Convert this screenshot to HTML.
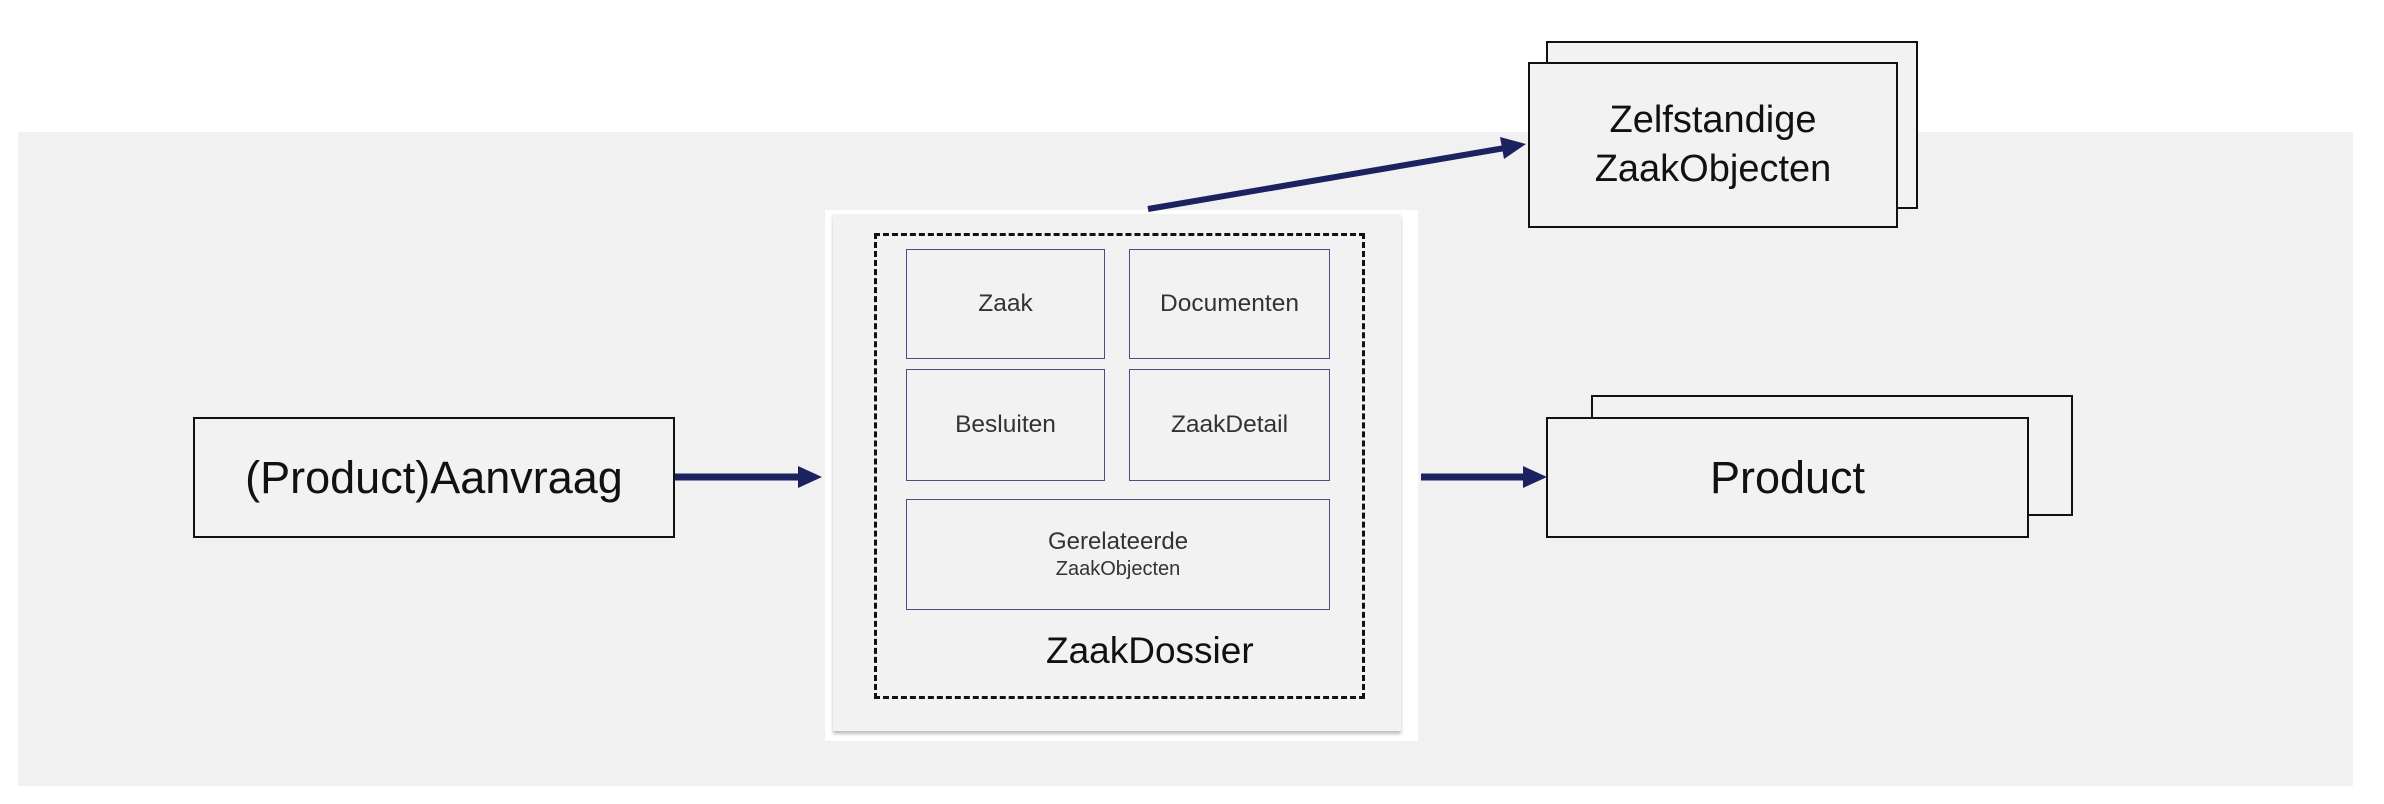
<!DOCTYPE html>
<html><head><meta charset="utf-8"><style>
html,body{margin:0;padding:0;background:#fff;}
body{width:2384px;height:804px;position:relative;overflow:hidden;font-family:"Liberation Sans",Arial,sans-serif;color:#111;}
.a{position:absolute;box-sizing:border-box;}
.c{display:flex;align-items:center;justify-content:center;text-align:center;}
.blk{border:2px solid #111;background:#f2f2f2;}
.in{border:1.5px solid #4a4f8a;background:#f2f2f2;font-size:24.5px;color:#333;}
</style></head><body>
<div class="a" style="left:18px;top:132px;width:2335px;height:654px;background:#f1f1f1;"></div>
<div class="a" style="left:825px;top:210px;width:593px;height:531px;background:#fff;"></div>
<div class="a" style="left:833px;top:214px;width:568px;height:517px;background:#f2f2f2;box-shadow:0 3px 3px rgba(0,0,0,0.25);"></div>
<div class="a" style="left:874px;top:233px;width:491px;height:466px;border:3px dashed #111;"></div>
<div class="a c in" style="left:906px;top:249px;width:199px;height:110px;">Zaak</div>
<div class="a c in" style="left:1129px;top:249px;width:201px;height:110px;">Documenten</div>
<div class="a c in" style="left:906px;top:369px;width:199px;height:112px;">Besluiten</div>
<div class="a c in" style="left:1129px;top:369px;width:201px;height:112px;">ZaakDetail</div>
<div class="a c in" style="left:906px;top:499px;width:424px;height:111px;flex-direction:column;line-height:1.2;font-size:24px;">Gerelateerde<span style="font-size:20px;">ZaakObjecten</span></div>
<div class="a" style="left:1046px;top:630px;font-size:37px;">ZaakDossier</div>

<div class="a c blk" style="left:193px;top:417px;width:482px;height:121px;font-size:45px;">(Product)Aanvraag</div>

<div class="a blk" style="left:1591px;top:395px;width:482px;height:121px;"></div>
<div class="a c blk" style="left:1546px;top:417px;width:483px;height:121px;font-size:45px;">Product</div>

<div class="a blk" style="left:1546px;top:41px;width:372px;height:168px;"></div>
<div class="a c blk" style="left:1528px;top:62px;width:370px;height:166px;font-size:38px;line-height:1.3;">Zelfstandige<br>ZaakObjecten</div>

<svg class="a" style="left:0;top:0;" width="2384" height="804">
<g fill="#1c2260" stroke="#1c2260">
<line x1="675" y1="477" x2="800" y2="477" stroke-width="7"/>
<polygon points="798,466 822,477 798,488" stroke="none"/>
<line x1="1421" y1="477" x2="1525" y2="477" stroke-width="7"/>
<polygon points="1523,466 1547,477 1523,488" stroke="none"/>
<line x1="1148" y1="209" x2="1505" y2="148" stroke-width="6"/>
<polygon points="1500,137 1526,144 1504,159" stroke="none"/>
</g>
</svg>
</body></html>
